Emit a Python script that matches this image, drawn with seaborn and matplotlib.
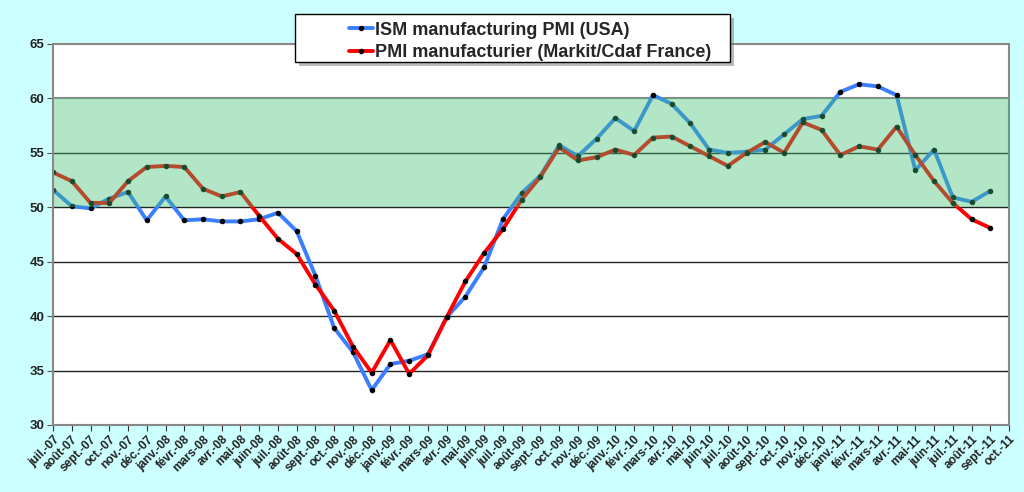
import pandas as pd
import matplotlib
matplotlib.use("Agg")
import matplotlib.pyplot as plt
from matplotlib.patches import Rectangle
import seaborn as sns

# Month labels on the x axis (one more than the data points)
mois = ["juil.-07", "août-07", "sept.-07", "oct.-07", "nov.-07", "déc.-07",
        "janv.-08", "févr.-08", "mars-08", "avr.-08", "mai-08", "juin-08",
        "juil.-08", "août-08", "sept.-08", "oct.-08", "nov.-08", "déc.-08",
        "janv.-09", "févr.-09", "mars-09", "avr.-09", "mai-09", "juin-09",
        "juil.-09", "août-09", "sept.-09", "oct.-09", "nov.-09", "déc.-09",
        "janv.-10", "févr.-10", "mars-10", "avr.-10", "mai-10", "juin-10",
        "juil.-10", "août-10", "sept.-10", "oct.-10", "nov.-10", "déc.-10",
        "janv.-11", "févr.-11", "mars-11", "avr.-11", "mai-11", "juin-11",
        "juil.-11", "août-11", "sept.-11", "oct.-11"]

# ISM manufacturing PMI (USA)
ism_usa = [51.6, 50.1, 49.9, 50.8, 51.4, 48.8, 51.0, 48.8, 48.9, 48.7,
           48.7, 48.9, 49.5, 47.8, 43.7, 38.9, 36.7, 33.2, 35.6, 35.9,
           36.5, 39.9, 41.8, 44.5, 48.9, 51.3, 52.9, 55.7, 54.7, 56.3,
           58.2, 57.0, 60.3, 59.5, 57.7, 55.3, 55.0, 55.1, 55.3, 56.7,
           58.1, 58.4, 60.6, 61.3, 61.1, 60.3, 53.4, 55.3, 50.9, 50.5,
           51.5]

# PMI manufacturier (Markit/Cdaf France)
pmi_france = [53.2, 52.4, 50.4, 50.4, 52.4, 53.7, 53.8, 53.7, 51.7, 51.0,
              51.4, 49.2, 47.1, 45.7, 42.9, 40.5, 37.2, 34.8, 37.8, 34.7,
              36.4, 39.9, 43.2, 45.8, 48.0, 50.7, 52.8, 55.5, 54.3, 54.6,
              55.3, 54.8, 56.4, 56.5, 55.6, 54.7, 53.8, 55.0, 56.0, 55.0,
              57.8, 57.1, 54.8, 55.6, 55.3, 57.4, 54.8, 52.4, 50.4, 48.9,
              48.1]

noms = ["ISM manufacturing PMI (USA)", "PMI manufacturier (Markit/Cdaf France)"]

df = pd.DataFrame({
    "idx": list(range(len(ism_usa))) * 2,
    "valeur": ism_usa + pmi_france,
    "serie": [noms[0]] * len(ism_usa) + [noms[1]] * len(pmi_france),
})

sns.set_style("white")
plt.rcParams["font.family"] = ["Liberation Sans", "DejaVu Sans"]
plt.rcParams["font.weight"] = "bold"

fig = plt.figure(figsize=(10.24, 4.92), dpi=100, facecolor="#CCFFFF")
ax = fig.add_axes([0.0518, 0.1362, 0.9336, 0.7744])
ax.set_facecolor("white")

# horizontal grid lines
for v in [35, 40, 45, 50, 55]:
    ax.axhline(v, color="#222222", lw=1, zorder=1)
ax.axhline(60, color="#888888", lw=1.5, zorder=1)

sns.lineplot(data=df, x="idx", y="valeur", hue="serie", hue_order=noms,
             palette=["#3A7FFF", "#FF0000"], linewidth=2.8, marker="o",
             markersize=3.2, markerfacecolor="black", markeredgecolor="black",
             ax=ax, zorder=2, legend=True)

# green zone 50-60 overlaid on the lines
ax.axhspan(50, 60, color="#41C075", alpha=0.4, lw=0, zorder=3)

ax.set_xlim(0, len(mois) - 1)
ax.set_ylim(30, 65)
ax.set_yticks(range(30, 66, 5))
ax.set_xticks(range(len(mois)))
ax.set_xticklabels(mois, rotation=45, ha="right", rotation_mode="anchor",
                   fontsize=8.6, fontweight="bold", color="#222222")
ax.tick_params(axis="y", labelsize=9.5, labelcolor="#222222", length=4,
               color="#555555", direction="out", left=True, pad=2)
ax.tick_params(axis="x", length=4, color="#333333", direction="out",
               bottom=True, pad=2)
for lab in ax.get_yticklabels():
    lab.set_fontweight("bold")
ax.set_xlabel("")
ax.set_ylabel("")

for s in ["left", "bottom", "top", "right"]:
    ax.spines[s].set_color("#888888")
    ax.spines[s].set_linewidth(1.5)

# legend frame with shadow (drawn by hand to get the wide box)
W, H = 1024, 492
fig.patches.append(Rectangle((299 / W, 1 - 66 / H), 435 / W, 48 / H,
                             transform=fig.transFigure, facecolor="#777777",
                             edgecolor="none", alpha=0.5, zorder=8))
fig.patches.append(Rectangle((295 / W, 1 - 62 / H), 435 / W, 48 / H,
                             transform=fig.transFigure, facecolor="white",
                             edgecolor="black", lw=1, zorder=9))

handles, labels = ax.get_legend_handles_labels()
ax.get_legend().remove()
leg = fig.legend(handles, labels, loc="upper left",
                 bbox_to_anchor=(336 / W, 1 - 9 / H),
                 frameon=False, handlelength=1.35, handletextpad=0.1,
                 borderpad=0.2, labelspacing=0.32,
                 prop={"family": "Liberation Sans", "weight": "bold", "size": 13})
leg.set_zorder(10)

fig.savefig("out.png", dpi=100, facecolor=fig.get_facecolor())
